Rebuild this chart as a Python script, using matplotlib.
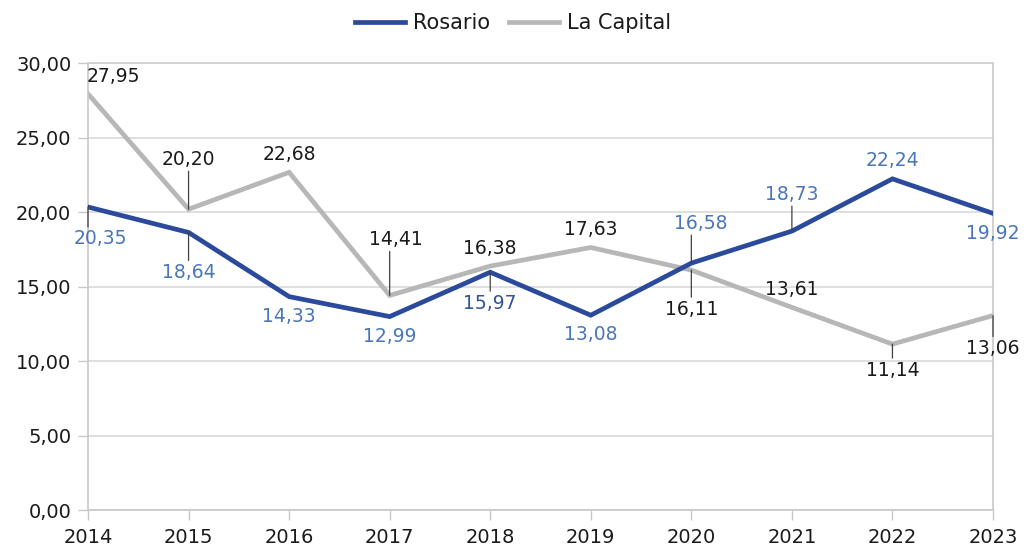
import matplotlib
matplotlib.use("Agg")
import matplotlib.pyplot as plt
from matplotlib.ticker import FuncFormatter

years = [2014, 2015, 2016, 2017, 2018, 2019, 2020, 2021, 2022, 2023]
rosario = [20.35, 18.64, 14.33, 12.99, 15.97, 13.08, 16.58, 18.73, 22.24, 19.92]
capital = [27.95, 20.20, 22.68, 14.41, 16.38, 17.63, 16.11, 13.61, 11.14, 13.06]

# label offsets in pixels (dx, dy) and whether a leader line is drawn
ros_off = [(12, -32, True), (0, -40, True), (0, -20, False), (0, -20, False),
           (0, -31, True), (0, -19, False), (9, 40, True), (0, 37, True),
           (0, 18, False), (0, -20, False)]
cap_off = [(25, 17, False), (0, 50, True), (0, 18, False), (6, 56, True),
           (0, 18, False), (0, 18, False), (0, -39, True), (0, 18, False),
           (0, -26, True), (0, -33, True)]

plt.rcParams['font.family'] = ['DejaVu Sans']
fig = plt.figure(figsize=(10.26, 5.5), dpi=100)
ax = fig.add_axes([88/1026, 1-510/550, (993-88)/1026, (510-63.3)/550])

ROS = '#2B4A9C'
CAP = '#B7B7B7'
ax.plot(years, rosario, color=ROS, lw=3.4, label='Rosario', zorder=3, solid_joinstyle='miter')
ax.plot(years, capital, color=CAP, lw=3.4, label='La Capital', zorder=2, solid_joinstyle='miter')

ax.set_xlim(2014, 2023)
ax.set_ylim(0, 30)
ax.set_yticks(range(0, 31, 5))
ax.set_xticks(years)
ax.yaxis.set_major_formatter(FuncFormatter(lambda v, p: f"{v:.2f}".replace('.', ',')))
ax.grid(axis='y', color='#D9D9D9', lw=1.2)
ax.set_axisbelow(True)
for s in ['left', 'right', 'top', 'bottom']:
    ax.spines[s].set_color('#C8C8C8')
    ax.spines[s].set_linewidth(1.2)
ax.spines['top'].set_color('#D0D0D0')
ax.tick_params(axis='x', length=7, width=1, color='#C8C8C8', labelsize=14, pad=6, labelcolor='#1a1a1a')
ax.tick_params(axis='y', length=7, width=1, color='#C8C8C8', labelsize=14, pad=5, labelcolor='#1a1a1a')

def label(xs, ys, offs, colors):
    for x, y, (dx, dy, lead), c in zip(xs, ys, offs, colors):
        txt = f"{y:.2f}".replace('.', ',')
        ax.annotate(txt, (x, y), xytext=(dx, dy), textcoords='offset pixels',
                    ha='center', va='center', fontsize=13.5, color=c,
                    zorder=5, annotation_clip=False)
        if lead:
            end = dy - 12 if dy > 0 else dy + 12
            ax.annotate('', (x, y), xytext=(0, end), textcoords='offset pixels',
                        arrowprops=dict(arrowstyle='-', color='#404040', lw=0.9,
                                        shrinkA=0, shrinkB=0),
                        zorder=4, annotation_clip=False)

ros_colors = ['#4A76B8'] * len(years)
ros_colors[4] = '#2F5597'
label(years, capital, cap_off, ['#1a1a1a'] * len(years))
label(years, rosario, ros_off, ros_colors)

fig.legend(loc='upper center', bbox_to_anchor=(0.5, 1.01), ncol=2, frameon=False,
           fontsize=15, handlelength=2.4, columnspacing=0.9, handletextpad=0.4,
           labelcolor='#1a1a1a')

fig.savefig('out.png', dpi=100)
